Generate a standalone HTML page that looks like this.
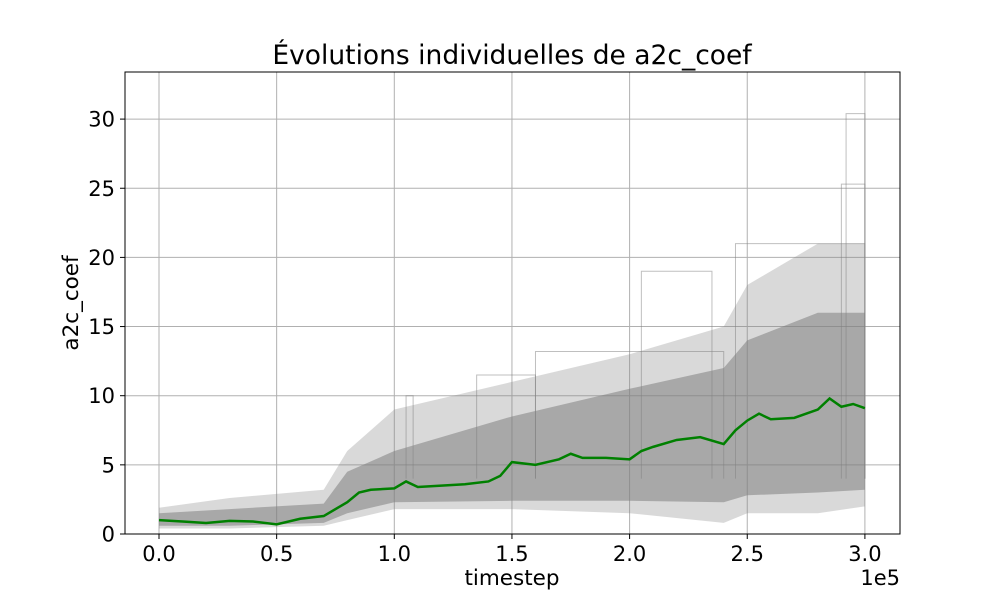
<!DOCTYPE html>
<html><head><meta charset="utf-8"><style>
body{margin:0;background:#fff}
svg{font-family:"DejaVu Sans","Liberation Sans",sans-serif}
</style></head><body>
<svg id="chart" width="1000" height="600" xmlns="http://www.w3.org/2000/svg">
<rect width="1000" height="600" fill="#fff"/>
<g id="grid"></g>
<g id="bands"></g>
<g id="steps"></g>
<g id="mean"></g>
<rect x="125" y="72" width="775" height="462" fill="none" stroke="#000" stroke-width="1"/>
<g id="ticks"></g>
<text x="512" y="64" font-size="26.5" text-anchor="middle">Évolutions individuelles de a2c_coef</text>
<text x="512" y="585" font-size="21.5" text-anchor="middle">timestep</text>
<text x="78" y="303" font-size="21.5" text-anchor="middle" transform="rotate(-90 78 303)">a2c_coef</text>
<text x="900" y="585" font-size="21" text-anchor="end">1e5</text>
</svg>
<script>
const xTicks=[0,0.5,1.0,1.5,2.0,2.5,3.0];
const xTickLabels=["0.0","0.5","1.0","1.5","2.0","2.5","3.0"];
const yTicks=[0,5,10,15,20,25,30];
const meanX=[0,0.1,0.2,0.3,0.4,0.5,0.6,0.7,0.8,0.85,0.9,1.0,1.05,1.1,1.2,1.3,1.4,1.45,1.5,1.6,1.7,1.75,1.8,1.9,2.0,2.05,2.1,2.2,2.3,2.4,2.45,2.5,2.55,2.6,2.7,2.75,2.8,2.85,2.9,2.95,3.0];
const meanY=[1.0,0.9,0.8,0.95,0.9,0.7,1.1,1.3,2.3,3.0,3.2,3.3,3.8,3.4,3.5,3.6,3.8,4.2,5.2,5.0,5.4,5.8,5.5,5.5,5.4,6.0,6.3,6.8,7.0,6.5,7.5,8.2,8.7,8.3,8.4,8.7,9.0,9.8,9.2,9.4,9.1];
const bandX=[0,0.3,0.7,0.8,1.0,1.5,2.0,2.4,2.5,2.8,3.0];
const outerLo=[0.4,0.4,0.6,1.0,1.8,1.8,1.5,0.8,1.5,1.5,2.0];
const outerHi=[1.9,2.6,3.2,6.0,9.0,11,13,15,18,21,21];
const innerLo=[0.6,0.6,0.8,1.5,2.3,2.4,2.4,2.3,2.8,3.0,3.2];
const innerHi=[1.5,1.8,2.2,4.5,6.0,8.5,10.5,12,14,16,16];
const stepStart=[1.05,1.6,2.05,2.45,2.9,2.92,1.35];
const stepEnd=[1.08,2.4,2.35,3.0,3.0,3.0,1.6];
const stepVal=[10,13.2,19,21,25.3,30.4,11.5];
const X=v=>159+v*235.3, Y=v=>534-v*13.83;
const NS="http://www.w3.org/2000/svg";
function mk(t,a,p){const e=document.createElementNS(NS,t);for(const k in a)e.setAttribute(k,a[k]);document.getElementById(p).appendChild(e);return e;}
xTicks.forEach((v,i)=>{
 const g=mk('line',{x1:X(v),x2:X(v),y1:72,y2:534,stroke:'#b0b0b0','stroke-width':1},'grid');
 
 
 mk('line',{x1:X(v),x2:X(v),y1:534,y2:539,stroke:'#000'},'ticks');
 const t=mk('text',{x:X(v),y:561,'font-size':21,'text-anchor':'middle'},'ticks');t.textContent=xTickLabels[i];
 
 
});
yTicks.forEach(v=>{
 const g=mk('line',{x1:125,x2:900,y1:Y(v),y2:Y(v),stroke:'#b0b0b0','stroke-width':1},'grid');
 
 
 mk('line',{x1:120,x2:125,y1:Y(v),y2:Y(v),stroke:'#000'},'ticks');
 const t=mk('text',{x:115,y:Y(v)+7.5,'font-size':21,'text-anchor':'end'},'ticks');t.textContent=v;
 
 
});
function band(lo,hi,op,name){
 let d='M'+bandX.map((x,i)=>X(x)+','+Y(hi[i])).join('L');
 for(let i=bandX.length-1;i>=0;i--)d+='L'+X(bandX[i])+','+Y(lo[i]);
 const p=mk('path',{d:d+'Z',fill:'#808080','fill-opacity':op},'bands');
 
 
}
band(outerLo,outerHi,0.3,'individual-runs-outer-band');
band(innerLo,innerHi,0.55,'individual-runs-inner-band');
stepStart.forEach((s,i)=>{
 const p=mk('path',{d:`M${X(s)},${Y(4)}L${X(s)},${Y(stepVal[i])}L${X(stepEnd[i])},${Y(stepVal[i])}L${X(stepEnd[i])},${Y(4)}`,fill:'none',stroke:'#808080','stroke-opacity':0.5,'stroke-width':1},'steps');
 
 
});
const m=mk('path',{d:'M'+meanX.map((x,i)=>X(x)+','+Y(meanY[i])).join('L'),fill:'none',stroke:'#008000','stroke-width':2.5},'mean');


</script>
</body></html>
